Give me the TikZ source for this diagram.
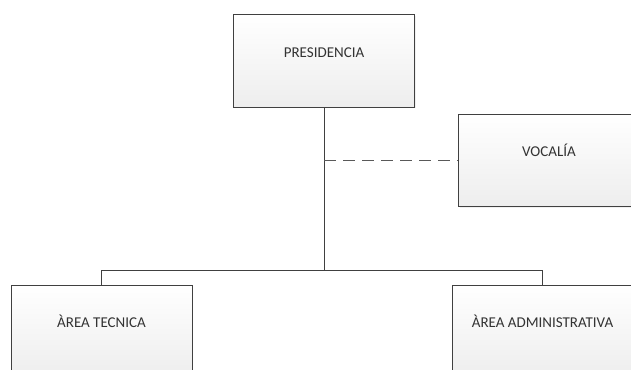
\documentclass[tikz,border=0pt]{standalone}
\usepackage{fontspec}
\setmainfont{Carlito}
\usetikzlibrary{positioning,shadows}

\begin{document}
\begin{tikzpicture}[x=1pt,y=-1pt]
\tikzstyle{cargo}=[rectangle, draw=black!75, line width=1pt, top color=white, bottom color=black!7,
  minimum width=181pt, minimum height=92pt, text height=10pt, text depth=18pt,
  font=\fontsize{15}{17}\selectfont, text=black!80, drop shadow={opacity=0.12, shadow xshift=1pt, shadow yshift=-1pt}]
\tikzstyle{linea}=[draw=black!75, line width=1pt]
\tikzstyle{apoyo}=[draw=black!65, line width=1.2pt, dash pattern=on 12pt off 7pt]

\useasboundingbox (0,0) rectangle (631,369);
\clip (0,0) rectangle (631,369);

%%%%% POSICIONES
\coordinate (pres) at (324, 61);
\coordinate (voc) at (549, 160.5);
\coordinate (tec) at (101.5, 331);
\coordinate (adm) at (542.5, 331);

%%%%% CARGOS
\node[cargo] (pres) at (pres) {PRESIDENCIA};
\node[cargo] (voc) at (voc) {VOCALÍA};
\node[cargo] (tec) at (tec) {ÀREA TECNICA};
\node[cargo] (adm) at (adm) {ÀREA ADMINISTRATIVA};

%%%%% CONEXIONES
\coordinate (rama) at (pres.south |- 0,270);
\coordinate (cruce) at (voc.west -| rama);
\draw[linea] (pres) -- (rama);
\draw[linea] (rama) -| (tec);
\draw[linea] (rama) -| (adm);
\draw[apoyo] (cruce) -- (voc);

\end{tikzpicture}
\end{document}
